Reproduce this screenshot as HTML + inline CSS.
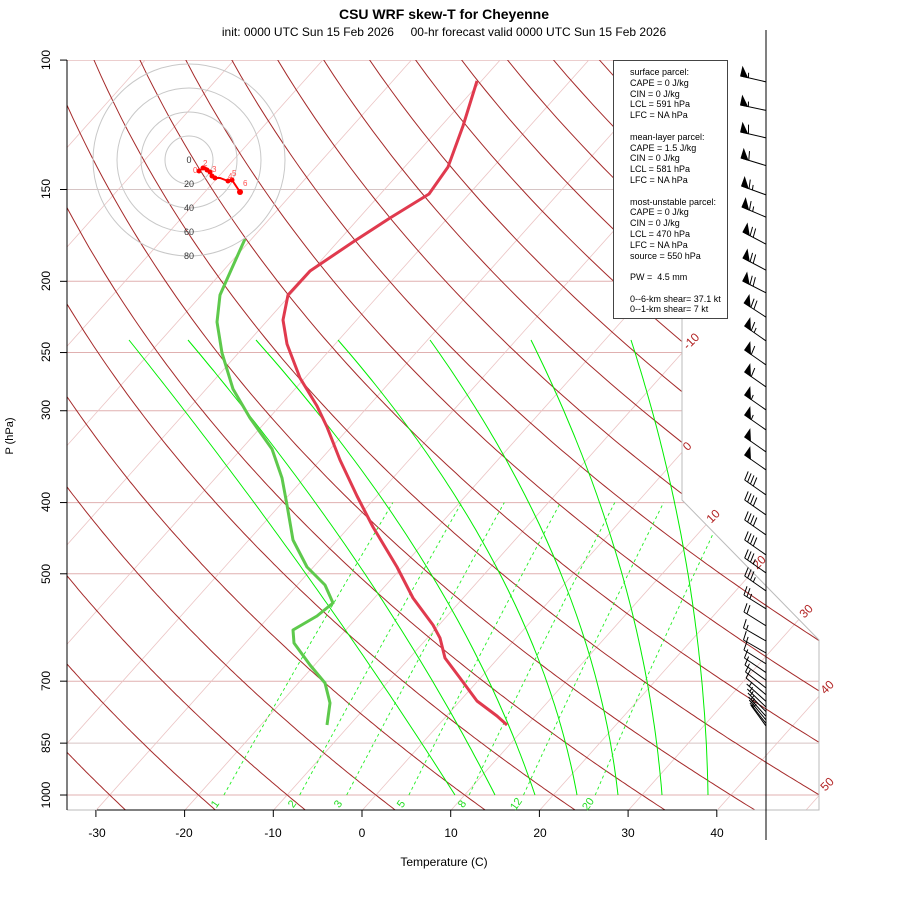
<!DOCTYPE html>
<html><head><meta charset="utf-8">
<style>
body{margin:0;background:#fff;}
svg{display:block;font-family:"Liberation Sans",sans-serif;}
</style></head>
<body>
<svg id="s" width="900" height="900" viewBox="0 0 900 900" xmlns="http://www.w3.org/2000/svg">
<defs>
<clipPath id="cp"><polygon points="67,60 682,60 682,500 819,640 819,810 67,810"/></clipPath>
</defs>
<rect width="900" height="900" fill="#fff"/>
<g id="grid" clip-path="url(#cp)"></g>
<g id="bound" fill="none" stroke="#bbbbbb" stroke-width="1">
<polyline points="67,810 819,810 819,640 682,500 682,60"/>
</g>
<text x="444" y="19" font-size="14" font-weight="bold" text-anchor="middle">CSU WRF skew-T for Cheyenne</text>
<text x="444" y="36" font-size="12" text-anchor="middle" xml:space="preserve">init: 0000 UTC Sun 15 Feb 2026     00-hr forecast valid 0000 UTC Sun 15 Feb 2026</text>
<g stroke="#000" stroke-width="1" fill="none">
<line x1="67" y1="60" x2="67" y2="810"/>
<line x1="97" y1="810" x2="717" y2="810"/>
</g>
<g id="ticks" stroke="#000" stroke-width="1"></g>
<g font-size="12" text-anchor="middle" fill="#000">
<text x="97" y="837">-30</text><text x="184" y="837">-20</text><text x="273" y="837">-10</text>
<text x="362" y="837">0</text><text x="451" y="837">10</text><text x="540" y="837">20</text>
<text x="628" y="837">30</text><text x="717" y="837">40</text>
<text x="444" y="866">Temperature (C)</text>
<text transform="translate(50,60) rotate(-90)">100</text>
<text transform="translate(50,189) rotate(-90)">150</text>
<text transform="translate(50,281) rotate(-90)">200</text>
<text transform="translate(50,352) rotate(-90)">250</text>
<text transform="translate(50,410) rotate(-90)">300</text>
<text transform="translate(50,502) rotate(-90)">400</text>
<text transform="translate(50,574) rotate(-90)">500</text>
<text transform="translate(50,681) rotate(-90)">700</text>
<text transform="translate(50,743) rotate(-90)">850</text>
<text transform="translate(50,795) rotate(-90)">1000</text>
<text transform="translate(13,436) rotate(-90)" font-size="11">P (hPa)</text>
</g>
<g font-size="12" fill="#b22222" text-anchor="middle">
<text transform="translate(694,344) rotate(-45)">-10</text>
<text transform="translate(690,449) rotate(-45)">0</text>
<text transform="translate(716,519) rotate(-45)">10</text>
<text transform="translate(762,565) rotate(-45)">20</text>
<text transform="translate(809,614) rotate(-45)">30</text>
<text transform="translate(830,690) rotate(-45)">40</text>
<text transform="translate(830,787) rotate(-45)">50</text>
</g>
<g font-size="11" fill="#22dd22" text-anchor="middle">
<text transform="translate(218,806) rotate(-55)">1</text>
<text transform="translate(295,806) rotate(-55)">2</text>
<text transform="translate(341,806) rotate(-55)">3</text>
<text transform="translate(404,806) rotate(-55)">5</text>
<text transform="translate(465,806) rotate(-55)">8</text>
<text transform="translate(519,806) rotate(-55)">12</text>
<text transform="translate(591,806) rotate(-55)">20</text>
</g>
<polyline fill="none" stroke="#e03a4e" stroke-width="3" stroke-linejoin="round" points="477,81 463,126 448,167 429,194 390,218 353,242 310,271 288,295 283,320 287,344 300,378 317,406 327,427 340,460 357,496 373,527 397,567 413,598 433,625 440,638 445,658 460,678 477,701 497,716 507,725"/>
<polyline fill="none" stroke="#5ec94c" stroke-width="3" stroke-linejoin="round" points="245,239 232,268 220,295 217,322 222,353 233,389 250,418 272,449 282,478 287,505 293,540 307,567 325,585 333,603 317,616 293,630 294,643 310,665 325,683 330,703 327,725"/>
<g fill="none" stroke="#c8c8c8" stroke-width="1">
<circle cx="189" cy="160" r="24"/><circle cx="189" cy="160" r="48"/>
<circle cx="189" cy="160" r="72"/><circle cx="189" cy="160" r="96"/>
</g>
<g font-size="9" fill="#333" text-anchor="middle">
<text x="189" y="163">0</text><text x="189" y="187">20</text><text x="189" y="211">40</text>
<text x="189" y="235">60</text><text x="189" y="259">80</text>
</g>
<polyline fill="none" stroke="#ff0000" stroke-width="2" points="199,171 203,168 207,170 205,167 210,172 212,176 215,178 220,178 228,181 232,180 240,192"/>
<g fill="#ff0000">
<circle cx="199" cy="171" r="2.5"/><circle cx="203" cy="168" r="2.5"/><circle cx="207" cy="170" r="2.5"/>
<circle cx="210" cy="172" r="2.5"/><circle cx="212" cy="176" r="2.5"/><circle cx="215" cy="178" r="2.5"/>
<circle cx="228" cy="181" r="2.5"/><circle cx="232" cy="180" r="2.5"/><circle cx="240" cy="192" r="3"/>
</g>
<g font-size="8" fill="#ff5050">
<text x="193" y="173">0</text><text x="203" y="166">2</text><text x="212" y="172">3</text>
<text x="228" y="179">4</text><text x="232" y="176">5</text><text x="243" y="186">6</text>
</g>
<rect x="613.5" y="60.5" width="114" height="258" fill="#fff" stroke="#444" stroke-width="1"/>
<g font-size="9" fill="#000">
<text x="630" y="75">surface parcel:</text>
<text x="630" y="86">CAPE = 0 J/kg</text>
<text x="630" y="97">CIN = 0 J/kg</text>
<text x="630" y="107">LCL = 591 hPa</text>
<text x="630" y="118">LFC = NA hPa</text>
<text x="630" y="140">mean-layer parcel:</text>
<text x="630" y="151">CAPE = 1.5 J/kg</text>
<text x="630" y="161">CIN = 0 J/kg</text>
<text x="630" y="172">LCL = 581 hPa</text>
<text x="630" y="183">LFC = NA hPa</text>
<text x="630" y="205">most-unstable parcel:</text>
<text x="630" y="215">CAPE = 0 J/kg</text>
<text x="630" y="226">CIN = 0 J/kg</text>
<text x="630" y="237">LCL = 470 hPa</text>
<text x="630" y="248">LFC = NA hPa</text>
<text x="630" y="259">source = 550 hPa</text>
<text x="630" y="280" xml:space="preserve">PW =  4.5 mm</text>
<text x="630" y="302">0--6-km shear= 37.1 kt</text>
<text x="630" y="312">0--1-km shear= 7 kt</text>
</g>
<line x1="766" y1="30" x2="766" y2="840" stroke="#000" stroke-width="1"/>
<g id="barbs" stroke="#000" stroke-width="1" fill="#000"></g>
<script>
(function(){
var NS="http://www.w3.org/2000/svg";
function Yv(p){return 132.182-44.061*Math.log10(p);}
function P(T,p){var y=Yv(p);return [375.9+16.43*(0.54*T+0.90692*y),795-16.68*y];}
var g=document.getElementById('grid');
function pl(pts,stroke,w,dash){var e=document.createElementNS(NS,'polyline');
e.setAttribute('points',pts.map(function(a){return a[0].toFixed(1)+','+a[1].toFixed(1);}).join(' '));
e.setAttribute('fill','none');e.setAttribute('stroke',stroke);e.setAttribute('stroke-width',w);
if(dash)e.setAttribute('stroke-dasharray',dash);g.appendChild(e);}
[1000,850,700,500,400,300,250,200,150,100].forEach(function(p){var y=P(0,p)[1];
pl([[67,y],[830,y]],(p==150||p==850)?'#d6c4c4':'#e0b0b0',1);});
for(var T=-120;T<=60;T+=10){pl([P(T,1060),P(T,95)],'#ebc4c4',0.8);}
for(var th=-40;th<=220;th+=10){var pts=[];for(var p=1060;p>=95;p-=5){var t=(th+273.15)*Math.pow(p/1000,0.2857)-273.15;pts.push(P(t,p));}pl(pts,'#a52a2a',1);}
// moist adiabats (fitted quadratics through measured points)
var M=[[129,306,455],[188,365,495],[256,431,535],[338,500,577],[430,561,618],[531,622,662],[631,688,708]];
var y0=340,y1=574,y2=795;
M.forEach(function(m){var pts=[];for(var y=y0;y<=y2;y+=5){
var x=m[0]*(y-y1)*(y-y2)/((y0-y1)*(y0-y2))+m[1]*(y-y0)*(y-y2)/((y1-y0)*(y1-y2))+m[2]*(y-y0)*(y-y1)/((y2-y0)*(y2-y1));
pts.push([x,y]);}pl(pts,'#00ee00',1);});
[1,2,3,5,8,12,20].forEach(function(w){var pts=[];for(var p=1000;p>=400;p-=20){var e=w*p/(622+w);var l=Math.log(e/6.112);var t=243.5*l/(17.67-l);pts.push(P(t,p));}pl(pts,'#22ee22',0.9,'3,3');});
var tk=document.getElementById('ticks');
function ln(par,x1,y1,x2,y2){var e=document.createElementNS(NS,'line');e.setAttribute('x1',x1);e.setAttribute('y1',y1);e.setAttribute('x2',x2);e.setAttribute('y2',y2);par.appendChild(e);return e;}
[1000,850,700,500,400,300,250,200,150,100].forEach(function(p){var y=P(0,p)[1];ln(tk,60,y,67,y);});
[-30,-20,-10,0,10,20,30,40].forEach(function(t){var x=362+8.87*t;ln(tk,x,810,x,817);});
var bg=document.getElementById('barbs');
var L=[[76,13,55],[105,12,55],[132,13,60],[158,17,60],[186,20,65],[207,23,65],[232,28,70],[258,28,70],[281,27,70],[303,33,70],[326,35,65],[350,35,60],[372,35,60],[395,35,55],[415,35,55],[437,35,50],[455,35,50],[480,35,40],[500,35,40],[520,35,40],[540,35,40],[558,35,35],[576,35,35],[595,32,25],[612,32,20],[628,30,15],[640,30,15],[650,32,10],[658,34,10],[665,36,10],[672,38,10],[678,40,10],[684,42,5],[689,44,5],[693,46,5],[697,48,5],[700,50,5],[703,52,5],[705,54,5]];
var len=26;
L.forEach(function(b){var a=b[1]*Math.PI/180,c=Math.cos(a),s=Math.sin(a);
var tx=766-len*c,ty=b[0];var bx=766,by=ty+len*s;
ln(bg,tx,ty,bx,by);
var ux=c,uy=s,nx=s,ny=-c;
var sp=b[2],pos=0;
while(sp>=50){var x0=tx+ux*pos,y0=ty+uy*pos,x1=tx+ux*(pos+7),y1=ty+uy*(pos+7);
var e=document.createElementNS(NS,'polygon');e.setAttribute('points',x0+','+y0+' '+(x0+nx*9)+','+(y0+ny*9)+' '+x1+','+y1);bg.appendChild(e);pos+=8;sp-=50;}
while(sp>=10){var x0=tx+ux*pos,y0=ty+uy*pos;ln(bg,x0,y0,x0+nx*9-ux*2,y0+ny*9-uy*2);pos+=3.5;sp-=10;}
if(sp>=5){if(pos==0)pos=3.5;var x0=tx+ux*pos,y0=ty+uy*pos;ln(bg,x0,y0,x0+nx*5-ux*1,y0+ny*5-uy*1);}
});
})();
</script>
</svg>
</body></html>
